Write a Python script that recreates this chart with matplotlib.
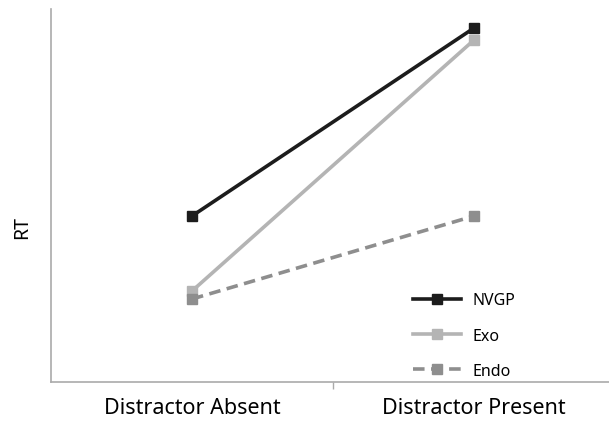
import matplotlib
matplotlib.use('Agg')
import matplotlib.pyplot as plt

conditions = ['Distractor Absent', 'Distractor Present']
nvgp = [166, 354]
exo = [91, 342]
endo = [83, 166]

plt.rcParams['font.family'] = ['Noto Sans', 'DejaVu Sans']

fig = plt.figure(figsize=(6.09, 4.27), dpi=100)
ax = fig.add_axes([51 / 609, 1 - 383 / 427, 564 / 609, 373 / 427])

xs = range(len(conditions))
ax.plot(xs, nvgp, color='#1c1c1c', lw=2.6, marker='s', ms=7, label='NVGP')
ax.plot(xs, exo, color='#b4b4b4', lw=2.6, marker='s', ms=7, label='Exo')
ax.plot(xs, endo, color='#8e8e8e', lw=2.6, ls=(0, (3.2, 1.8)), marker='s', ms=7, label='Endo')

ax.set_xlim(-0.5, 1.5)
ax.set_ylim(0, 373)
ax.set_xticks([0.5])
ax.set_xticklabels([])
ax.set_xticks([0, 1], minor=True)
ax.set_xticklabels(conditions, minor=True, fontsize=15.5)
ax.tick_params(axis='x', which='minor', length=0, pad=11)
ax.tick_params(axis='x', which='major', length=5, color='#aaaaaa', width=1)
ax.set_yticks([])
for s in ['top', 'right']:
    ax.spines[s].set_visible(False)
for s in ['left', 'bottom']:
    ax.spines[s].set_color('#aaaaaa')
    ax.spines[s].set_linewidth(1.2)

fig.text(22 / 609, 1 - 228 / 427, 'RT', rotation=90, ha='center', va='center', fontsize=14)

ax.legend(loc='upper left', bbox_to_anchor=(348 / 564, (383 - 279) / 373), frameon=False,
          fontsize=11.5, handlelength=3.0, labelspacing=1.2, handletextpad=0.7)

fig.savefig('out.png', dpi=100)
